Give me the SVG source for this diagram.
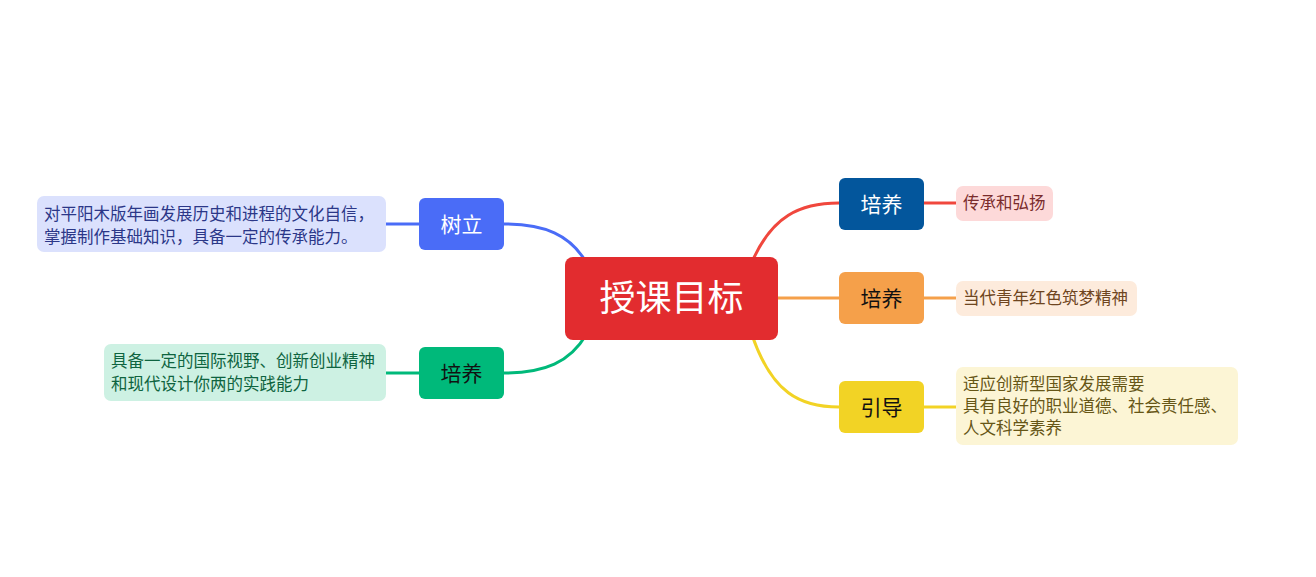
<svg xmlns="http://www.w3.org/2000/svg" width="1316" height="577" viewBox="0 0 1316 577">
<style>
text{font-family:"Noto Sans CJK SC","Microsoft YaHei",sans-serif}
.leaf{font-size:16.5px}
.br{font-size:21px;text-anchor:middle}
.c{fill:none;stroke-width:3}
</style>
<rect width="1316" height="577" fill="#fff"/>
<g id="connectors">
<path class="c" stroke="#4a6cf7" d="M386,224 H419"/>
<path class="c" stroke="#4a6cf7" d="M504,224 C545,224 570,235 586,262"/>
<path class="c" stroke="#00b97a" d="M386,373 H419"/>
<path class="c" stroke="#00b97a" d="M504,373 C545,373 570,362 586,335"/>
<path class="c" stroke="#f0473d" d="M752,262 C772,216 800,203 839,203"/>
<path class="c" stroke="#f0473d" d="M924,203 H956"/>
<path class="c" stroke="#f5a04a" d="M778,298 H839"/>
<path class="c" stroke="#f5a04a" d="M924,298 H956"/>
<path class="c" stroke="#f2d325" d="M752,335 C772,393 800,407 839,407"/>
<path class="c" stroke="#f2d325" d="M924,407 H956"/>
</g>
<g id="root">
<rect x="565" y="257" width="213" height="83" rx="8" fill="#e22c2f"/>
<text x="671.5" y="311" font-size="36" fill="#fff" text-anchor="middle">授课目标</text>
</g>
<g id="n-shuli">
<rect x="419" y="198" width="85" height="52" rx="6" fill="#4a6cf7"/>
<text class="br" x="461.5" y="231.5" fill="#fff">树立</text>
</g>
<g id="leaf-shuli">
<rect x="37" y="196" width="349" height="56" rx="7" fill="#dbe1fd"/>
<text class="leaf" x="44" y="220" fill="#2b3788">对平阳木版年画发展历史和进程的文化自信，</text>
<text class="leaf" x="44" y="243" fill="#2b3788">掌握制作基础知识，具备一定的传承能力。</text>
</g>
<g id="n-peiyang-left">
<rect x="419" y="347" width="85" height="52" rx="6" fill="#00b97a"/>
<text class="br" x="461.5" y="380.5" fill="#111">培养</text>
</g>
<g id="leaf-peiyang-left">
<rect x="104" y="344" width="282" height="57" rx="7" fill="#cdf1e3"/>
<text class="leaf" x="111" y="367" fill="#0e6440">具备一定的国际视野、创新创业精神</text>
<text class="leaf" x="111" y="390" fill="#0e6440">和现代设计你两的实践能力</text>
</g>
<g id="n-peiyang-1">
<rect x="839" y="178" width="85" height="52" rx="6" fill="#03569c"/>
<text class="br" x="881.5" y="211.5" fill="#fff">培养</text>
</g>
<g id="leaf-1">
<rect x="956" y="186" width="97" height="35" rx="7" fill="#fdd9d9"/>
<text class="leaf" x="963" y="209" fill="#7a2c2c">传承和弘扬</text>
</g>
<g id="n-peiyang-2">
<rect x="839" y="272" width="85" height="52" rx="6" fill="#f5a04a"/>
<text class="br" x="881.5" y="305.5" fill="#111">培养</text>
</g>
<g id="leaf-2">
<rect x="956" y="281" width="181" height="35" rx="7" fill="#fdebdc"/>
<text class="leaf" x="963" y="304" fill="#6e4520">当代青年红色筑梦精神</text>
</g>
<g id="n-yindao">
<rect x="839" y="381" width="85" height="52" rx="6" fill="#f2d325"/>
<text class="br" x="881.5" y="414.5" fill="#111">引导</text>
</g>
<g id="leaf-3">
<rect x="956" y="367" width="282" height="78" rx="7" fill="#fcf5d5"/>
<text class="leaf" x="963" y="390" fill="#665616">适应创新型国家发展需要</text>
<text class="leaf" x="963" y="412" fill="#665616">具有良好的职业道德、社会责任感、</text>
<text class="leaf" x="963" y="434" fill="#665616">人文科学素养</text>
</g>
</svg>
